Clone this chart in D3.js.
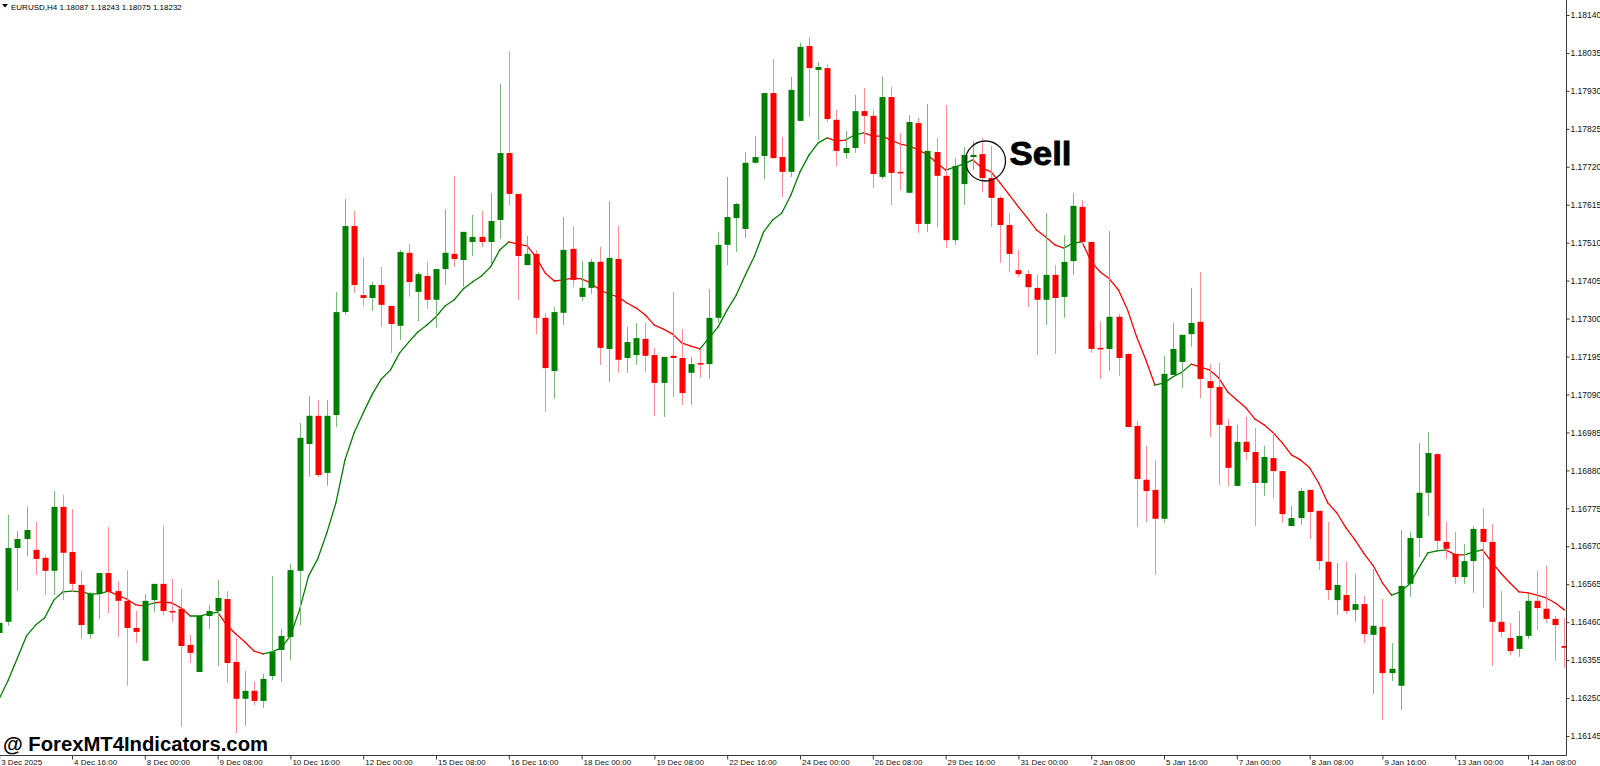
<!DOCTYPE html>
<html>
<head>
<meta charset="utf-8">
<title>EURUSD,H4</title>
<script src="https://cdn.jsdelivr.net/npm/d3@7"></script>
<style>
  html, body { margin: 0; padding: 0; background: #fff; }
  svg { display: block; }
</style>
</head>
<body>
<div id="chart"></div>
<script>
// EURUSD H4 candles, 3 Dec 2025 -> 14 Jan 2026

const openP = [
  1.16430, 1.16461, 1.16665, 1.16690, 1.16660, 1.16638, 1.16602, 1.16779, 1.16654, 1.16563,
  1.16427, 1.16538, 1.16596, 1.16546, 1.16519, 1.16444, 1.16353, 1.16521, 1.16566, 1.16491,
  1.16497, 1.16397, 1.16322, 1.16477, 1.16491, 1.16524, 1.16350, 1.16248, 1.16270, 1.16242,
  1.16311, 1.16383, 1.16419, 1.16602, 1.16953, 1.17031, 1.16873, 1.17033, 1.17318, 1.17556,
  1.17365, 1.17357, 1.17393, 1.17335, 1.17280, 1.17482, 1.17374, 1.17418, 1.17352, 1.17437,
  1.17479, 1.17462, 1.17512, 1.17526, 1.17512, 1.17573, 1.17758, 1.17645, 1.17448, 1.17479,
  1.17302, 1.17155, 1.17316, 1.17493, 1.17360, 1.17385, 1.17457, 1.17216, 1.17465, 1.17191,
  1.17199, 1.17244, 1.17199, 1.17122, 1.17197, 1.17191, 1.17150, 1.17177, 1.17174, 1.17302,
  1.17504, 1.17578, 1.17548, 1.17731, 1.17750, 1.17924, 1.17747, 1.17706, 1.17847, 1.18054,
  1.17988, 1.17993, 1.17850, 1.17758, 1.17772, 1.17874, 1.17861, 1.17692, 1.17913, 1.17706,
  1.17648, 1.17841, 1.17562, 1.17761, 1.17695, 1.17517, 1.17672, 1.17747, 1.17755, 1.17689,
  1.17634, 1.17559, 1.17434, 1.17423, 1.17385, 1.17352, 1.17421, 1.17360, 1.17459, 1.17609,
  1.17512, 1.17219, 1.17216, 1.17305, 1.17202, 1.17003, 1.16854, 1.16826, 1.16746, 1.17144,
  1.17180, 1.17257, 1.17291, 1.17127, 1.17111, 1.17003, 1.16837, 1.16959, 1.16931, 1.16845,
  1.16914, 1.16878, 1.16726, 1.16748, 1.16826, 1.16768, 1.16627, 1.16521, 1.16535, 1.16494,
  1.16510, 1.16425, 1.16447, 1.16319, 1.16284, 1.16566, 1.16693, 1.16818, 1.16925, 1.16682,
  1.16649, 1.16585, 1.16629, 1.16718, 1.16682, 1.16461, 1.16416, 1.16386, 1.16422, 1.16519,
  1.16497, 1.16469, 1.16394
];

const highP = [
  1.16480, 1.16757, 1.16712, 1.16779, 1.16737, 1.16646, 1.16823, 1.16812, 1.16773, 1.16602,
  1.16544, 1.16596, 1.16723, 1.16574, 1.16604, 1.16491, 1.16538, 1.16566, 1.16726, 1.16580,
  1.16552, 1.16425, 1.16477, 1.16508, 1.16577, 1.16546, 1.16416, 1.16325, 1.16295, 1.16317,
  1.16588, 1.16441, 1.16621, 1.17011, 1.17086, 1.17075, 1.17075, 1.17374, 1.17631, 1.17598,
  1.17470, 1.17401, 1.17443, 1.17335, 1.17490, 1.17506, 1.17429, 1.17457, 1.17437, 1.17603,
  1.17695, 1.17540, 1.17587, 1.17598, 1.17648, 1.17949, 1.18040, 1.17645, 1.17529, 1.17490,
  1.17316, 1.17332, 1.17581, 1.17556, 1.17459, 1.17465, 1.17498, 1.17625, 1.17556, 1.17277,
  1.17288, 1.17288, 1.17219, 1.17194, 1.17374, 1.17271, 1.17194, 1.17216, 1.17382, 1.17540,
  1.17692, 1.17620, 1.17761, 1.17805, 1.17924, 1.18018, 1.17802, 1.17969, 1.18063, 1.18079,
  1.18010, 1.18004, 1.17877, 1.17819, 1.17919, 1.17938, 1.17877, 1.17969, 1.17941, 1.17814,
  1.17863, 1.17855, 1.17894, 1.17800, 1.17891, 1.17744, 1.17775, 1.17791, 1.17800, 1.17778,
  1.17639, 1.17592, 1.17490, 1.17434, 1.17421, 1.17592, 1.17448, 1.17531, 1.17648, 1.17628,
  1.17512, 1.17291, 1.17542, 1.17313, 1.17205, 1.17017, 1.16948, 1.16909, 1.17197, 1.17288,
  1.17255, 1.17385, 1.17429, 1.17174, 1.17177, 1.17022, 1.17006, 1.17028, 1.16997, 1.16948,
  1.16984, 1.16878, 1.16782, 1.16831, 1.16826, 1.16768, 1.16737, 1.16624, 1.16627, 1.16593,
  1.16533, 1.16607, 1.16524, 1.16402, 1.16715, 1.16710, 1.16956, 1.16986, 1.16928, 1.16737,
  1.16710, 1.16676, 1.16726, 1.16776, 1.16732, 1.16546, 1.16458, 1.16491, 1.16538, 1.16602,
  1.16616, 1.16477, 1.16472
];

const lowP = [
  1.16411, 1.16450, 1.16546, 1.16643, 1.16591, 1.16535, 1.16535, 1.16521, 1.16544, 1.16414,
  1.16414, 1.16469, 1.16485, 1.16419, 1.16284, 1.16402, 1.16353, 1.16488, 1.16480, 1.16461,
  1.16170, 1.16347, 1.16322, 1.16441, 1.16339, 1.16292, 1.16153, 1.16173, 1.16231, 1.16223,
  1.16300, 1.16295, 1.16355, 1.16452, 1.16862, 1.16862, 1.16837, 1.17000, 1.17310, 1.17371,
  1.17335, 1.17321, 1.17277, 1.17205, 1.17241, 1.17360, 1.17293, 1.17327, 1.17274, 1.17393,
  1.17443, 1.17387, 1.17473, 1.17498, 1.17451, 1.17520, 1.17614, 1.17352, 1.17448, 1.17257,
  1.17042, 1.17078, 1.17282, 1.17387, 1.17349, 1.17368, 1.17172, 1.17125, 1.17150, 1.17150,
  1.17172, 1.17152, 1.17031, 1.17028, 1.17083, 1.17061, 1.17061, 1.17136, 1.17133, 1.17288,
  1.17448, 1.17484, 1.17523, 1.17728, 1.17686, 1.17742, 1.17636, 1.17692, 1.17847, 1.17858,
  1.17794, 1.17844, 1.17722, 1.17742, 1.17758, 1.17783, 1.17661, 1.17686, 1.17614, 1.17656,
  1.17648, 1.17537, 1.17540, 1.17553, 1.17495, 1.17504, 1.17614, 1.17711, 1.17650, 1.17553,
  1.17454, 1.17429, 1.17415, 1.17332, 1.17199, 1.17282, 1.17202, 1.17302, 1.17421, 1.17504,
  1.17205, 1.17133, 1.17155, 1.17141, 1.17000, 1.16723, 1.16737, 1.16591, 1.16735, 1.17144,
  1.17108, 1.17222, 1.17080, 1.16972, 1.16840, 1.16837, 1.16837, 1.16909, 1.16726, 1.16809,
  1.16804, 1.16735, 1.16726, 1.16729, 1.16690, 1.16604, 1.16521, 1.16480, 1.16483, 1.16461,
  1.16402, 1.16261, 1.16189, 1.16297, 1.16217, 1.16530, 1.16640, 1.16754, 1.16660, 1.16635,
  1.16566, 1.16566, 1.16541, 1.16499, 1.16339, 1.16419, 1.16369, 1.16364, 1.16414, 1.16438,
  1.16458, 1.16353, 1.16333
];

const closeP = [
  1.16458, 1.16665, 1.16690, 1.16715, 1.16635, 1.16602, 1.16779, 1.16652, 1.16566, 1.16452,
  1.16538, 1.16596, 1.16544, 1.16519, 1.16444, 1.16433, 1.16519, 1.16566, 1.16491, 1.16488,
  1.16394, 1.16375, 1.16477, 1.16491, 1.16527, 1.16347, 1.16248, 1.16270, 1.16242, 1.16303,
  1.16378, 1.16422, 1.16604, 1.16970, 1.17031, 1.16867, 1.17031, 1.17318, 1.17556, 1.17393,
  1.17357, 1.17393, 1.17338, 1.17285, 1.17484, 1.17401, 1.17423, 1.17352, 1.17437, 1.17482,
  1.17465, 1.17540, 1.17526, 1.17512, 1.17570, 1.17758, 1.17645, 1.17473, 1.17479, 1.17302,
  1.17163, 1.17318, 1.17490, 1.17407, 1.17385, 1.17457, 1.17219, 1.17468, 1.17186, 1.17235,
  1.17246, 1.17197, 1.17122, 1.17194, 1.17191, 1.17094, 1.17174, 1.17174, 1.17302, 1.17504,
  1.17581, 1.17617, 1.17731, 1.17747, 1.17924, 1.17744, 1.17706, 1.17933, 1.18052, 1.17993,
  1.17996, 1.17852, 1.17764, 1.17772, 1.17874, 1.17861, 1.17700, 1.17913, 1.17703, 1.17703,
  1.17844, 1.17562, 1.17764, 1.17695, 1.17517, 1.17722, 1.17753, 1.17753, 1.17689, 1.17634,
  1.17559, 1.17479, 1.17423, 1.17387, 1.17352, 1.17421, 1.17357, 1.17457, 1.17612, 1.17512,
  1.17216, 1.17216, 1.17305, 1.17191, 1.17000, 1.16856, 1.16823, 1.16746, 1.17147, 1.17216,
  1.17255, 1.17288, 1.17133, 1.17108, 1.17006, 1.16887, 1.16959, 1.16931, 1.16845, 1.16917,
  1.16878, 1.16759, 1.16748, 1.16823, 1.16765, 1.16629, 1.16549, 1.16563, 1.16491, 1.16510,
  1.16427, 1.16450, 1.16319, 1.16331, 1.16560, 1.16693, 1.16818, 1.16928, 1.16685, 1.16663,
  1.16585, 1.16629, 1.16718, 1.16682, 1.16461, 1.16433, 1.16380, 1.16422, 1.16519, 1.16499,
  1.16469, 1.16452, 1.16389
];

// moving average indicator value per bar, and its colour state (1 = rising/green, -1 = falling/red)
const maValues = [
  1.16248, 1.16300, 1.16361, 1.16422, 1.16452, 1.16472, 1.16521, 1.16544, 1.16546, 1.16544,
  1.16538, 1.16538, 1.16546, 1.16535, 1.16524, 1.16508, 1.16505, 1.16513, 1.16516, 1.16513,
  1.16499, 1.16477, 1.16477, 1.16483, 1.16488, 1.16452, 1.16427, 1.16405, 1.16380, 1.16372,
  1.16378, 1.16389, 1.16422, 1.16494, 1.16588, 1.16635, 1.16707, 1.16790, 1.16909, 1.16984,
  1.17039, 1.17091, 1.17133, 1.17158, 1.17205, 1.17235, 1.17263, 1.17282, 1.17305, 1.17335,
  1.17352, 1.17382, 1.17401, 1.17418, 1.17443, 1.17490, 1.17512, 1.17506, 1.17501, 1.17470,
  1.17426, 1.17404, 1.17407, 1.17412, 1.17410, 1.17399, 1.17379, 1.17368, 1.17360, 1.17343,
  1.17329, 1.17310, 1.17282, 1.17271, 1.17257, 1.17233, 1.17224, 1.17216, 1.17246, 1.17277,
  1.17324, 1.17365, 1.17421, 1.17473, 1.17540, 1.17573, 1.17592, 1.17642, 1.17706, 1.17753,
  1.17786, 1.17800, 1.17791, 1.17794, 1.17808, 1.17814, 1.17805, 1.17805, 1.17794, 1.17783,
  1.17778, 1.17767, 1.17753, 1.17731, 1.17711, 1.17719, 1.17728, 1.17739, 1.17717, 1.17706,
  1.17675, 1.17642, 1.17609, 1.17578, 1.17545, 1.17526, 1.17504, 1.17495, 1.17509, 1.17512,
  1.17457, 1.17429, 1.17410, 1.17379, 1.17324, 1.17249, 1.17186, 1.17116, 1.17122, 1.17139,
  1.17152, 1.17174, 1.17166, 1.17158, 1.17136, 1.17097, 1.17075, 1.17053, 1.17022, 1.17006,
  1.16984, 1.16956, 1.16923, 1.16909, 1.16887, 1.16845, 1.16790, 1.16762, 1.16721, 1.16687,
  1.16649, 1.16616, 1.16569, 1.16535, 1.16544, 1.16566, 1.16610, 1.16652, 1.16657, 1.16660,
  1.16646, 1.16646, 1.16654, 1.16660, 1.16627, 1.16596, 1.16569, 1.16544, 1.16541, 1.16535,
  1.16527, 1.16513, 1.16494
];

const maTrend = [
   1,  1,  1,  1,  1,  1,  1,  1,  1,  1,   1,  1,  1, -1, -1, -1, -1,  1, -1, -1,
  -1, -1,  1,  1,  1, -1, -1, -1, -1, -1,   1,  1,  1,  1,  1,  1,  1,  1,  1,  1,
   1,  1,  1,  1,  1,  1,  1,  1,  1,  1,   1,  1,  1,  1,  1,  1,  1, -1, -1, -1,
  -1, -1, -1, -1, -1, -1, -1, -1, -1, -1,  -1, -1, -1, -1, -1, -1, -1, -1,  1,  1,
   1,  1,  1,  1,  1,  1,  1,  1,  1,  1,   1,  1, -1, -1,  1,  1, -1, -1, -1, -1,
  -1, -1, -1, -1, -1,  1,  1,  1, -1, -1,  -1, -1, -1, -1, -1, -1, -1, -1,  1,  1,
  -1, -1, -1, -1, -1, -1, -1, -1,  1,  1,   1,  1, -1, -1, -1, -1, -1, -1, -1, -1,
  -1, -1, -1, -1, -1, -1, -1, -1, -1, -1,  -1, -1, -1, -1,  1,  1,  1,  1,  1,  1,
  -1, -1,  1,  1, -1, -1, -1, -1, -1, -1,  -1, -1, -1
];

// price scale labels on the right
const priceTicks = [
  1.18140, 1.18035, 1.17930, 1.17825, 1.17720, 1.17615, 1.17510, 1.17405, 1.17300, 1.17195,
  1.17090, 1.16985, 1.16880, 1.16775, 1.16670, 1.16565, 1.16460, 1.16355, 1.16250, 1.16145
];

// time scale labels (one every 8 bars)
const timeTickBars = [0, 8, 16, 24, 32, 40, 48, 56, 64, 72, 80, 88, 96, 104, 112, 120, 128, 136, 144, 152, 160, 168];
const timeLabels = [
  '3 Dec 2025', '4 Dec 16:00', '8 Dec 00:00', '9 Dec 08:00', '10 Dec 16:00', '12 Dec 00:00',
  '15 Dec 08:00', '16 Dec 16:00', '18 Dec 00:00', '19 Dec 08:00', '22 Dec 16:00', '24 Dec 00:00',
  '26 Dec 08:00', '29 Dec 16:00', '31 Dec 00:00', '2 Jan 08:00', '5 Jan 16:00', '7 Jan 00:00',
  '8 Jan 08:00', '9 Jan 16:00', '13 Jan 00:00', '14 Jan 08:00'
];

const headerText = 'EURUSD,H4  1.18087 1.18243 1.18075 1.18232';
const signalBar = 108;
const signalPrice = 1.17736;

const width = 1600;
const height = 766;
const plotRight = 1566;
const plotBottom = 755;
const bodyWidth = 6;
const uiFont = '"Liberation Sans", Arial, sans-serif';

const bars = openP.map((o, i) => ({ i, o, h: highP[i], l: lowP[i], c: closeP[i] }));

const x = d3.scaleLinear()
    .domain([0, bars.length - 1])
    .range([-0.8, 1564.4]);

const y = d3.scaleLinear()
    .domain([1.16145, 1.18140])
    .range([736, 15]);

const svg = d3.select('#chart')
    .append('svg')
    .attr('width', width)
    .attr('height', height)
    .style('background', '#ffffff');

svg.append('defs')
    .append('clipPath')
    .attr('id', 'plot-clip')
    .append('rect')
    .attr('x', 0)
    .attr('y', 0)
    .attr('width', plotRight)
    .attr('height', plotBottom);

const plot = svg.append('g').attr('clip-path', 'url(#plot-clip)');

// Indicator line, drawn segment by segment so each piece gets its own colour
const maSegments = d3.range(1, maValues.length).map(i => ({
    a: [x(i - 1), y(maValues[i - 1])],
    b: [x(i), y(maValues[i])],
    up: maTrend[i] > 0
}));

plot.append('g')
    .selectAll('line')
    .data(maSegments)
    .enter()
    .append('line')
    .attr('x1', d => d.a[0])
    .attr('y1', d => d.a[1])
    .attr('x2', d => d.b[0])
    .attr('y2', d => d.b[1])
    .attr('stroke', d => d.up ? '#008000' : '#ff0000')
    .attr('stroke-width', 1.3)
    .attr('stroke-linecap', 'round');

// Candles
const candle = plot.append('g')
    .selectAll('.candle')
    .data(bars)
    .enter()
    .append('g')
    .attr('class', 'candle');

candle.append('line')
    .attr('x1', d => Math.round(x(d.i)) + 0.5)
    .attr('x2', d => Math.round(x(d.i)) + 0.5)
    .attr('y1', d => y(d.h))
    .attr('y2', d => y(d.l))
    .attr('stroke', d => d.c >= d.o ? '#78bc78' : '#ff8c8c')
    .attr('stroke-width', 1);

candle.append('rect')
    .attr('x', d => Math.round(x(d.i)) + 0.5 - bodyWidth / 2)
    .attr('y', d => y(Math.max(d.o, d.c)))
    .attr('width', bodyWidth)
    .attr('height', d => Math.max(1.5, Math.abs(y(d.o) - y(d.c))))
    .attr('fill', d => d.c >= d.o ? '#008000' : '#ff0000');

// Frame lines of the price and time scales
svg.append('line')
    .attr('x1', plotRight + 0.5).attr('x2', plotRight + 0.5)
    .attr('y1', 0).attr('y2', plotBottom + 0.5)
    .attr('stroke', '#3a3a3a');

svg.append('line')
    .attr('x1', 0).attr('x2', plotRight + 0.5)
    .attr('y1', plotBottom + 0.5).attr('y2', plotBottom + 0.5)
    .attr('stroke', '#3a3a3a');

// Price axis
const yAxis = d3.axisRight(y)
    .tickValues(priceTicks)
    .tickSize(3)
    .tickPadding(1)
    .tickFormat(d => d.toFixed(5));

const yAxisG = svg.append('g')
    .attr('transform', `translate(${plotRight + 0.5},0)`)
    .call(yAxis);

yAxisG.select('.domain').remove();
yAxisG.selectAll('.tick line').attr('stroke', '#3a3a3a');
yAxisG.selectAll('.tick text')
    .style('font-family', uiFont)
    .style('font-size', '8.5px')
    .style('fill', '#111');

// Time axis
const xAxis = d3.axisBottom(x)
    .tickValues(timeTickBars)
    .tickSize(4)
    .tickPadding(0)
    .tickFormat((d, i) => timeLabels[i]);

const xAxisG = svg.append('g')
    .attr('transform', `translate(0,${plotBottom + 0.5})`)
    .call(xAxis);

xAxisG.select('.domain').remove();
xAxisG.selectAll('.tick line').attr('stroke', '#3a3a3a');
xAxisG.selectAll('.tick text')
    .attr('text-anchor', 'start')
    .attr('x', 1.5)
    .style('font-family', uiFont)
    .style('font-size', '8px')
    .style('fill', '#111');

// Header (symbol, timeframe, OHLC)
svg.append('path')
    .attr('d', 'M2,4 L8,4 L5,7.5 Z')
    .attr('fill', '#000');

svg.append('text')
    .attr('x', 11)
    .attr('y', 9.5)
    .text(headerText)
    .style('font-family', uiFont)
    .style('font-size', '8px')
    .style('fill', '#000');

// Sell signal marker
const sellX = x(signalBar) + 3.5;
const sellY = y(signalPrice);

svg.append('circle')
    .attr('cx', sellX)
    .attr('cy', sellY)
    .attr('r', 20)
    .attr('fill', 'none')
    .attr('stroke', '#111')
    .attr('stroke-width', 1.3);

svg.append('text')
    .attr('x', sellX + 24)
    .attr('y', sellY + 4)
    .attr('textLength', 62)
    .attr('lengthAdjust', 'spacingAndGlyphs')
    .text('Sell')
    .style('font-family', uiFont)
    .style('font-weight', 'bold')
    .style('font-size', '33px')
    .style('fill', '#000')
    .style('stroke', '#000')
    .style('stroke-width', 0.8);

// Watermark
svg.append('text')
    .attr('x', 3)
    .attr('y', 751)
    .attr('textLength', 265)
    .attr('lengthAdjust', 'spacingAndGlyphs')
    .text('@ ForexMT4Indicators.com')
    .style('font-family', uiFont)
    .style('font-weight', 'bold')
    .style('font-size', '20px')
    .style('fill', '#000');
</script>
</body>
</html>
